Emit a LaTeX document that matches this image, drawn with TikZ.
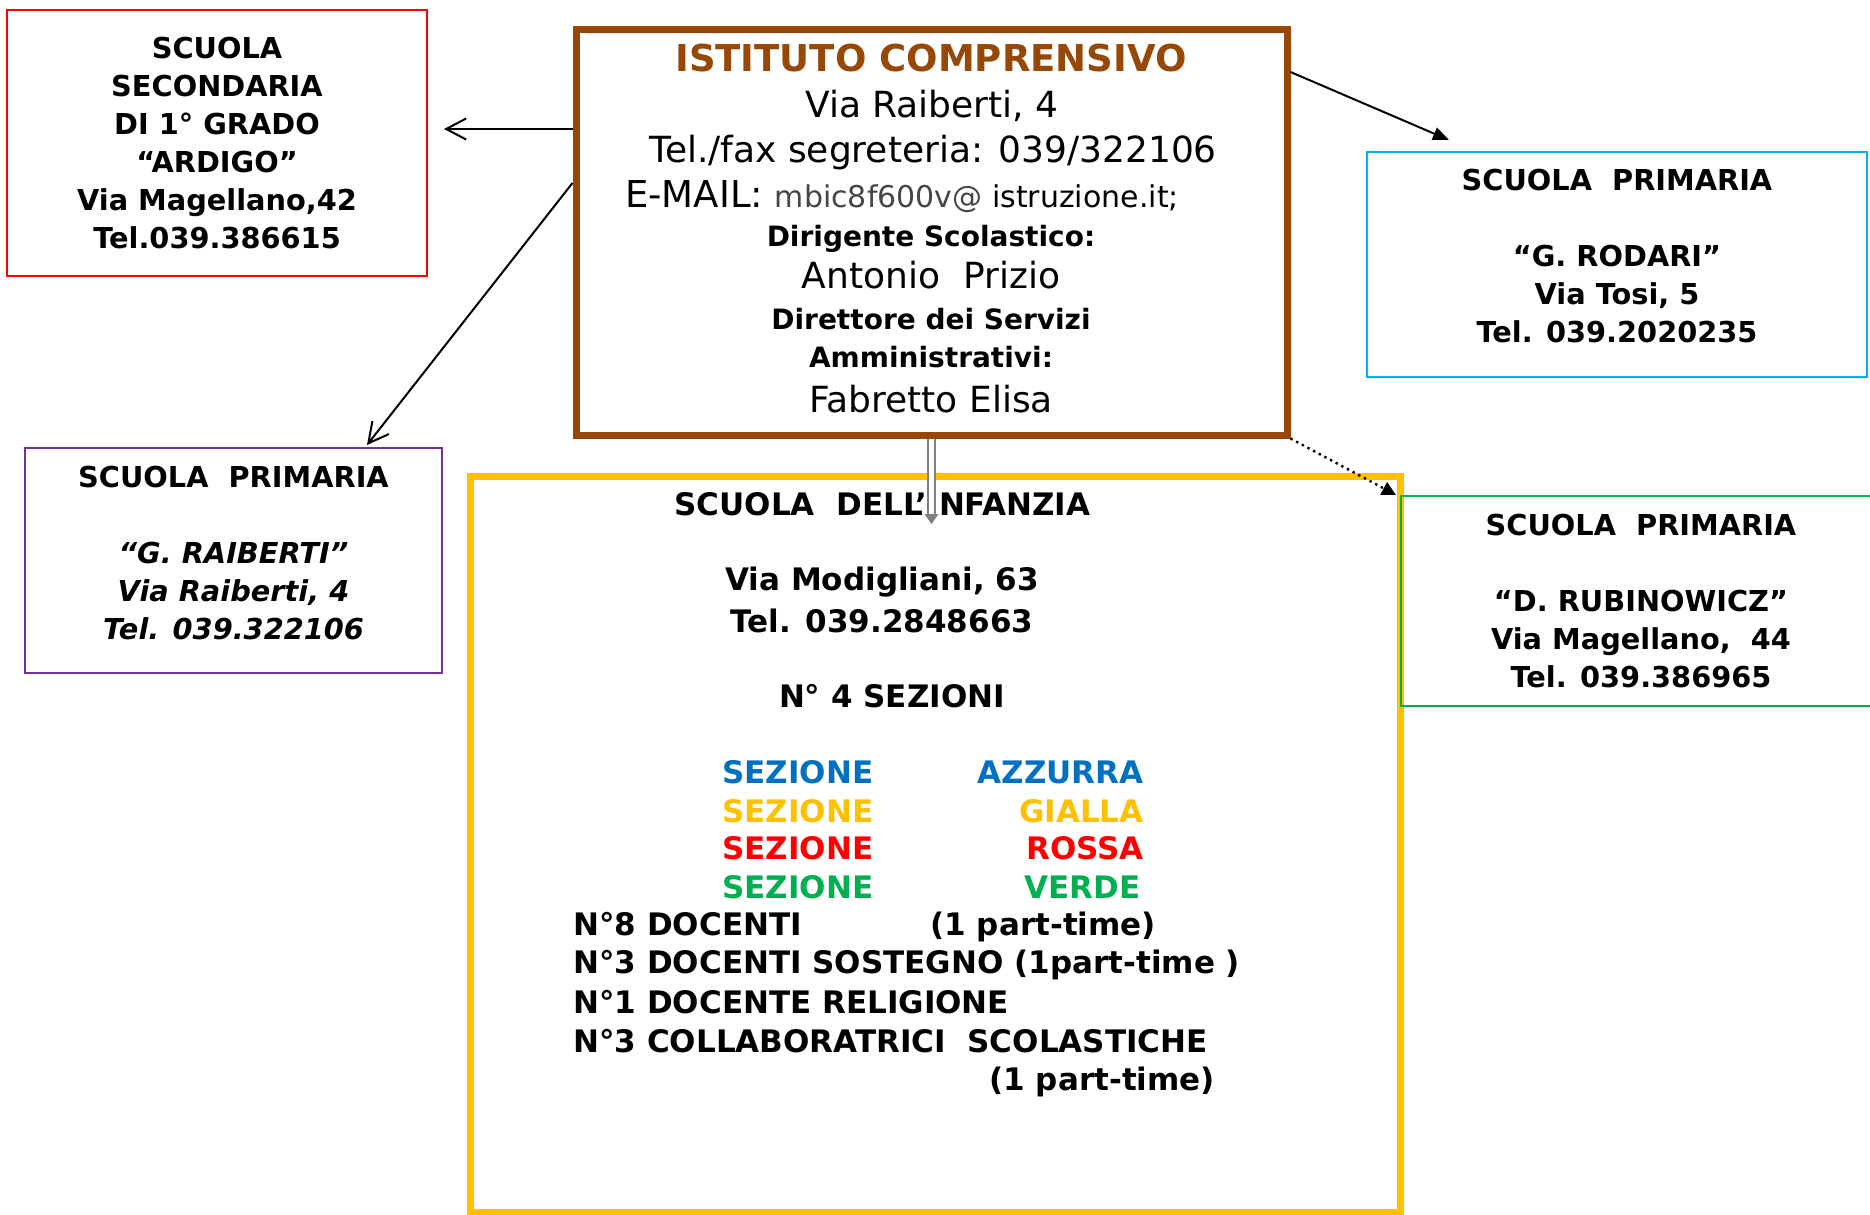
\documentclass[tikz,border=0pt]{standalone}
\usepackage{fontspec}
\setmainfont{DejaVu Sans}
\usetikzlibrary{arrows.meta}
\usetikzlibrary{calc}

\definecolor{brownline}{RGB}{151,72,6}
\definecolor{redline}{RGB}{255,0,0}
\definecolor{blueline}{RGB}{0,176,240}
\definecolor{purpleline}{RGB}{112,48,160}
\definecolor{greenline}{RGB}{0,176,80}
\definecolor{yellowline}{RGB}{255,192,0}
\definecolor{azzurro}{RGB}{0,112,192}
\definecolor{mailgray}{RGB}{70,70,70}

\begin{document}
\begin{tikzpicture}[x=0.5pt, y=-0.5pt,
  schoolbox/.style={draw, line width=1pt, inner sep=0pt},
  boxtext/.style={align=center, inner sep=0pt, font=\fontsize{14.4}{19}\selectfont\bfseries},
  headline/.style={anchor=base, inner sep=0pt, font=\fontsize{18}{22}\selectfont},
  headbold/.style={anchor=base, inner sep=0pt, font=\fontsize{14}{17}\selectfont\bfseries},
  infline/.style={anchor=base, inner sep=0pt, font=\fontsize{15.5}{19}\selectfont\bfseries},
  openlink/.style={line width=1pt, -{Straight Barb[length=10pt,width=10.5pt]}},
  filledlink/.style={line width=1pt, -{Triangle[length=8pt,width=6.5pt]}}]

  \useasboundingbox (0,0) rectangle (1870,1215);

  \node[schoolbox, draw=redline, minimum width=210pt, minimum height=133pt] (ardigo) at (217,143) {};
  \node[boxtext] (ardigo text) at (ardigo)
    {SCUOLA\\SECONDARIA\\DI 1° GRADO\\“ARDIGO”\\Via Magellano,42\\Tel.039.386615};

  \node[schoolbox, draw=blueline, minimum width=250pt, minimum height=112.5pt] (rodari) at (1617,264.5) {};
  \node[boxtext] (rodari text) at ($(rodari)+(0,-8)$)
    {SCUOLA\ \ PRIMARIA\\[19pt]“G. RODARI”\\Via Tosi, 5\\Tel. 039.2020235};

  \node[schoolbox, draw=purpleline, minimum width=208.5pt, minimum height=112.5pt] (raiberti) at (233.5,560.5) {};
  \node[boxtext] (raiberti text) at ($(raiberti)+(0,-7)$)
    {SCUOLA\ \ PRIMARIA\\[19pt]\itshape “G. RAIBERTI”\\\itshape Via Raiberti, 4\\\itshape Tel. 039.322106};

  \node[draw=brownline, line width=3.5pt, minimum width=355.5pt, minimum height=203pt, inner sep=0pt] (istituto) at (931.5,232) {};
  \node[headline, font=\fontsize{18.5}{22}\selectfont\bfseries, text=brownline] (title) at (931,71) {ISTITUTO COMPRENSIVO};
  \node[headline] (address) at (932,117) {Via Raiberti, 4};
  \node[headline] (phone) at (933,162) {Tel./fax segreteria: 039/322106};
  \node[headline, font=\fontsize{18.5}{22}\selectfont] (mail) at (902,207) {E-MAIL: {\fontsize{15}{17}\selectfont\color{mailgray}mbic8f600v@ \color{black}istruzione.it;}};
  \node[headbold] (dirigente) at (931,246) {Dirigente Scolastico:};
  \node[headline] (prizio) at (931,288) {Antonio\ \ Prizio};
  \node[headbold] (direttore) at (931,329) {Direttore dei Servizi};
  \node[headbold] (amministrativi) at (931,367) {Amministrativi:};
  \node[headline] (fabretto) at (931,412) {Fabretto Elisa};

  \node[draw=yellowline, line width=3.5pt, minimum width=465pt, minimum height=368pt, inner sep=0pt] (infanzia) at (935,844) {};
  \node[infline] (inftitle) at (882.5,515) {SCUOLA\ \ DELL’INFANZIA};
  \node[infline] (infaddress) at (882,590) {Via Modigliani, 63};
  \node[infline] (infphone) at (882,632) {Tel. 039.2848663};
  \node[infline] (sezioni) at (892,707) {N° 4 SEZIONI};

  \node[infline, anchor=base west, text=azzurro] (sez1) at (722,783) {SEZIONE};
  \node[infline, anchor=base west, text=yellowline] (sez2) at (722,822) {SEZIONE};
  \node[infline, anchor=base west, text=redline] (sez3) at (722,859) {SEZIONE};
  \node[infline, anchor=base west, text=greenline] (sez4) at (722,898) {SEZIONE};
  \node[infline, anchor=base east, text=azzurro] (azzurra) at (1144,783) {AZZURRA};
  \node[infline, anchor=base east, text=yellowline] (gialla) at (1144,822) {GIALLA};
  \node[infline, anchor=base east, text=redline] (rossa) at (1144,859) {ROSSA};
  \node[infline, anchor=base west, text=greenline] (verde) at (1024,898) {VERDE};

  \node[infline, anchor=base west] (docenti) at (573,935) {N°8 DOCENTI};
  \node[infline, anchor=base west] (docentipt) at (930,935) {(1 part-time)};
  \node[infline, anchor=base west] (sostegno) at (573,973) {N°3 DOCENTI SOSTEGNO (1part-time )};
  \node[infline, anchor=base west] (religione) at (573,1013) {N°1 DOCENTE RELIGIONE};
  \node[infline, anchor=base west] (collaboratrici) at (573,1052) {N°3 COLLABORATRICI\ \ SCOLASTICHE};
  \node[infline, anchor=base west] (collaboratricipt) at (989,1090) {(1 part-time)};

  \node[schoolbox, draw=greenline, minimum width=240pt, minimum height=105pt] (rubinowicz) at (1641,601) {};
  \node[boxtext] (rubinowicz text) at (rubinowicz)
    {SCUOLA\ \ PRIMARIA\\[19pt]“D. RUBINOWICZ”\\Via Magellano,\ \ 44\\Tel. 039.386965};

  \coordinate (infanzia tip) at (931.5,524);

  \draw[openlink] ($(istituto.west)+(0,-103)$) -- ($(ardigo.east)+(16,-14)$);
  \draw[openlink] ($(istituto.west)+(0,-49)$) -- ($(raiberti.north)+(133.5,-2)$);
  \draw[filledlink] ($(istituto.east)+(0,-160)$) -- ($(rodari.north)+(-168,-11)$);
  \draw[line width=1.2pt, dotted, -{Triangle[length=7pt,width=7pt]}] (istituto.south east) -- ($(rubinowicz.north west)+(-4,0)$);
  \draw[gray, line width=1pt, double=white, double distance=2.2pt] (istituto.south) -- ($(infanzia tip)+(0,-9)$);
  \draw[gray, -{Triangle[length=5pt,width=7pt]}] ($(infanzia tip)+(0,-10)$) -- (infanzia tip);

\end{tikzpicture}
\end{document}
